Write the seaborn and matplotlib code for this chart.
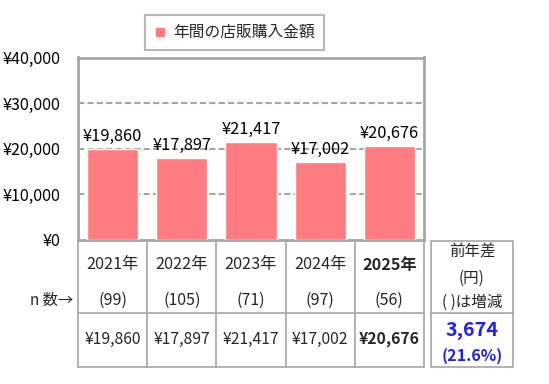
import matplotlib
matplotlib.use("Agg")
import matplotlib.pyplot as plt
import matplotlib.transforms as mtrans
from matplotlib.lines import Line2D
from matplotlib.patches import Rectangle
import seaborn as sns
import pandas as pd

# ---- data ----
years = ["2021年", "2022年", "2023年", "2024年", "2025年"]
values = [19860, 17897, 21417, 17002, 20676]
n_counts = [99, 105, 71, 97, 56]
series_name = "年間の店販購入金額"
yticks = [0, 10000, 20000, 30000, 40000]
diff_label = "3,674"
diff_pct = "(21.6%)"

sns.set_theme(style="white")
plt.rcParams["font.family"] = ["Noto Sans CJK JP", "DejaVu Sans"]

W, H = 549, 384
fig = plt.figure(figsize=(W / 100, H / 100), dpi=100)
fig.patch.set_facecolor("white")

def fx(px):
    return px / W

def fy(py):
    return 1 - py / H

ax = fig.add_axes([fx(78), fy(240), fx(424) - fx(78), fy(57.5) - fy(240)])

df = pd.DataFrame({"year": years, "value": values})
bar_color = "#FF7C80"
sns.barplot(data=df, x="year", y="value", color=bar_color, width=0.74,
            edgecolor="white", linewidth=1, saturation=1, ax=ax, zorder=3)

ax.set_ylim(0, 40000)
ax.set_xlim(-0.5, len(years) - 0.5)
ax.set_yticks(yticks)
ax.set_yticklabels([f"¥{v:,}" for v in yticks], fontsize=11.6, color="black")
ax.tick_params(axis="y", length=0, pad=12.5)
ax.set_xticks([])
ax.set_xlabel("")
ax.set_ylabel("")

grid_c = "#A6A6A6"
for v in yticks[1:]:
    ax.axhline(v, color=grid_c, lw=1.5, ls=(0, (3, 1.5)), zorder=1)
for s in ax.spines.values():
    s.set_color(grid_c)
    s.set_linewidth(2)

for c in ax.containers:
    ax.bar_label(c, labels=[f"¥{v:,}" for v in values], padding=3,
                 fontsize=11.8, color="black", zorder=5)

# legend
handle = Line2D([], [], marker="s", color="none", markerfacecolor=bar_color,
                markeredgecolor=bar_color, markersize=5.5)
leg = fig.legend([handle], [series_name], loc="center",
                 bbox_to_anchor=(fx(234.5), fy(32.5)), fontsize=11.3,
                 frameon=True, fancybox=False, handlelength=0.8,
                 handletextpad=0.45, borderpad=0.55, borderaxespad=0)
leg.get_frame().set_edgecolor(grid_c)
leg.get_frame().set_linewidth(1.5)

# ---- table below ----
tr = mtrans.blended_transform_factory(ax.transData, fig.transFigure)
tab_c = "#A6A6A6"
ncol = len(years)
top, mid, bot = 240, 312.5, 367
for b in [i - 0.5 for i in range(ncol + 1)]:
    fig.add_artist(Line2D([b, b], [fy(top), fy(bot)], transform=tr,
                          color=tab_c, lw=1.2))
for yy in [mid, bot]:
    fig.add_artist(Line2D([-0.5, ncol - 0.5], [fy(yy), fy(yy)], transform=tr,
                          color=tab_c, lw=1.2))

for i, (yr, n, v) in enumerate(zip(years, n_counts, values)):
    w = "bold" if i == ncol - 1 else "normal"
    fig.text(i, fy(265), yr, transform=tr, ha="center", va="center",
             fontsize=11.7, fontweight=w)
    fig.text(i, fy(300), f"({n})", transform=tr, ha="center", va="center",
             fontsize=11.5)
    fig.text(i, fy(339), f"¥{v:,}", transform=tr, ha="center", va="center",
             fontsize=11.3, fontweight=w)

fig.text(fx(52), fy(300), "n 数→", ha="center", va="center", fontsize=11)

# right box
fig.add_artist(Rectangle((fx(431), fy(367)), fx(513) - fx(431), fy(241) - fy(367),
                         transform=fig.transFigure, fill=False,
                         edgecolor=tab_c, lw=1.2))
fig.add_artist(Line2D([fx(431), fx(513)], [fy(312.5), fy(312.5)],
                      transform=fig.transFigure, color=tab_c, lw=1.2))
cx = fx(472)
fig.text(cx, fy(251), "前年差", ha="center", va="center", fontsize=11.2)
fig.text(cx, fy(278), "(円)", ha="center", va="center", fontsize=11.2)
fig.text(cx, fy(302), "( )は増減", ha="center", va="center", fontsize=11.2)
blue = "#1F1FEE"
fig.text(cx, fy(331), diff_label, ha="center", va="center", fontsize=14.2,
         fontweight="bold", color=blue)
fig.text(cx, fy(356), diff_pct, ha="center", va="center", fontsize=11.6,
         fontweight="bold", color=blue)

fig.savefig("out.png", dpi=100, facecolor="white")
